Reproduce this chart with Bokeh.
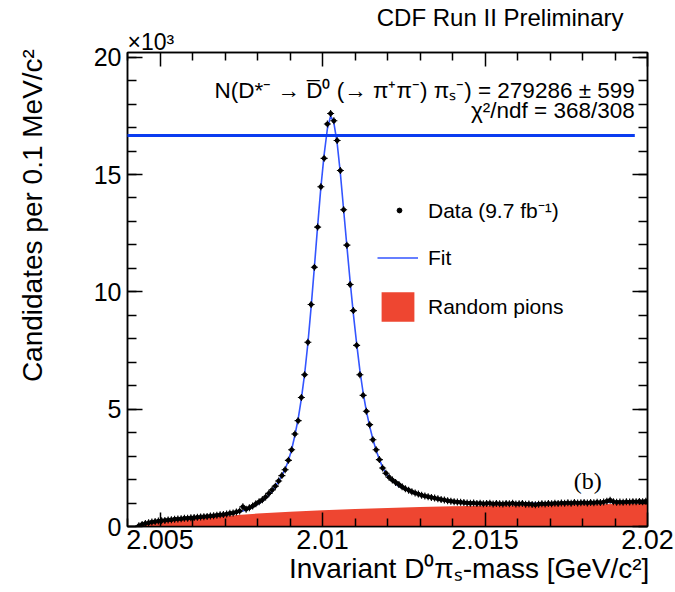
import numpy as np
from bokeh.plotting import figure
from bokeh.models import (Range1d, FixedTicker, LinearAxis, Label, Legend, LegendItem, Title,
                          Arrow, ColumnDataSource, CustomJSTickFormatter, CustomLabelingPolicy)
from bokeh.embed import file_html
from bokeh.resources import INLINE

# ---------------- data (counts in units of 10^3 per 0.1 MeV bin) ----------------
bin_low = 2.0043
bin_width = 0.0001
counts_k = [
    0.03, 0.09, 0.13, 0.16, 0.19, 0.21, 0.23, 0.25, 0.26, 0.28,
    0.29, 0.31, 0.32, 0.33, 0.35, 0.35, 0.37, 0.38, 0.39, 0.41,
    0.42, 0.43, 0.45, 0.46, 0.48, 0.50, 0.51, 0.53, 0.56, 0.58,
    0.62, 0.66, 0.84, 0.74, 0.80, 0.87, 0.97, 1.05, 1.14, 1.26,
    1.41, 1.56, 1.72, 1.94, 2.17, 2.42, 2.82, 3.27, 3.94, 4.51,
    5.50, 6.47, 7.85, 9.46, 11.05, 12.76, 14.48, 15.69, 17.15, 17.60,
    17.29, 16.45, 15.17, 13.50, 11.99, 10.31, 9.20, 7.72, 6.47, 5.59,
    4.91, 4.34, 3.70, 3.27, 2.85, 2.49, 2.27, 2.10, 1.98, 1.88,
    1.79, 1.69, 1.61, 1.55, 1.48, 1.43, 1.38, 1.33, 1.30, 1.27,
    1.24, 1.21, 1.18, 1.15, 1.13, 1.10, 1.08, 1.06, 1.04, 1.03,
    1.02, 1.00, 0.99, 1.00, 0.98, 0.99, 0.97, 0.98, 0.99, 0.96,
    0.98, 0.97, 0.96, 0.98, 0.97, 0.99, 0.96, 0.97, 0.98, 0.95,
    0.96, 0.94, 0.93, 0.95, 0.97, 0.96, 0.98, 0.97, 0.99, 0.98,
    1.00, 0.99, 1.01, 0.99, 1.02, 1.00, 1.01, 1.02, 1.00, 1.02,
    1.01, 1.03, 1.02, 1.04, 1.08, 1.12, 1.06, 1.03, 1.04, 1.03,
    1.05, 1.04, 1.06, 1.05, 1.07, 1.06, 1.08,
]

fit_mass = [
    2.00430, 2.00440, 2.00450, 2.00470, 2.00500, 2.00550, 2.00600, 2.00650,
    2.00700, 2.00730, 2.00760, 2.00780, 2.00800, 2.00815, 2.00830, 2.00845,
    2.00860, 2.00875, 2.00885, 2.00895, 2.00905, 2.00915, 2.00925, 2.00935,
    2.00945, 2.00955, 2.00965, 2.00975, 2.00985, 2.00995, 2.01005, 2.01015,
    2.01025, 2.01035, 2.01045, 2.01055, 2.01065, 2.01075, 2.01085, 2.01095,
    2.01105, 2.01115, 2.01125, 2.01135, 2.01145, 2.01155, 2.01165, 2.01175,
    2.01185, 2.01195, 2.01205, 2.01230, 2.01255, 2.01280, 2.01305, 2.01330,
    2.01355, 2.01400, 2.01450, 2.01500, 2.01600, 2.01700, 2.01800, 2.01900,
    2.02000,
]
fit_k = [
    0.00, 0.06, 0.12, 0.18, 0.24, 0.31, 0.37, 0.44,
    0.52, 0.58, 0.68, 0.79, 0.95, 1.08, 1.26, 1.50,
    1.82, 2.18, 2.45, 2.80, 3.28, 3.88, 4.58, 5.45,
    6.50, 7.80, 9.35, 11.05, 12.80, 14.45, 15.85, 16.95,
    17.50, 17.20, 16.35, 15.05, 13.50, 11.95, 10.45, 9.05,
    7.80, 6.65, 5.70, 4.92, 4.28, 3.72, 3.25, 2.86,
    2.52, 2.26, 2.07, 1.76, 1.58, 1.43, 1.33, 1.25,
    1.18, 1.08, 1.02, 0.99, 0.98, 1.00, 1.02, 1.04,
    1.06,
]

bg_mass = [2.0043, 2.00435, 2.0045, 2.0047, 2.005, 2.0055, 2.006, 2.0065, 2.007,
           2.0075, 2.008, 2.009, 2.010, 2.011, 2.012, 2.013, 2.014, 2.015, 2.016,
           2.017, 2.018, 2.019, 2.020]
bg_k = [0.0, 0.02, 0.09, 0.15, 0.21, 0.28, 0.34, 0.40, 0.45,
        0.50, 0.55, 0.63, 0.69, 0.75, 0.79, 0.83, 0.86, 0.88, 0.90,
        0.92, 0.94, 0.96, 0.97]

x_major = [2.005, 2.01, 2.015, 2.02]
x_minor = [2.004, 2.006, 2.007, 2.008, 2.009, 2.011, 2.012, 2.013, 2.014,
           2.016, 2.017, 2.018, 2.019]
y_major = [0, 5, 10, 15, 20]
y_minor = list(range(0, 21))

FONT = "Liberation Sans"
NBSP = "\u00a0"

bin_centers = bin_low + bin_width * (np.arange(len(counts_k)) + 0.5)
data_src = ColumnDataSource(dict(x=bin_centers, y=counts_k))

p = figure(width=675, height=592, x_range=Range1d(2.004, 2.02), y_range=Range1d(0, 20.2),
           output_backend="svg", toolbar_location=None, title=None,
           min_border_left=127, min_border_right=28, min_border_top=52, min_border_bottom=66)
p.grid.visible = False
p.outline_line_color = "black"
p.outline_line_width = 1.5
p.background_fill_color = "white"
p.border_fill_color = "white"

# background (random pions)
bg_r = p.varea(x=bg_mass, y1=0, y2=bg_k, fill_color="#EE4631")
# fit
fit_r = p.line(x=fit_mass, y=fit_k, line_color="#3355FF", line_width=1.6)
# data
pts = p.scatter("x", "y", source=data_src, marker="circle", size=4,
                fill_color="black", line_color="black")
crs = p.scatter("x", "y", source=data_src, marker="cross", size=7,
                line_color="black", line_width=1.1)

# axes styling
def style_axis(ax, major_in, minor_in):
    ax.axis_line_color = "black"
    ax.axis_line_width = 1.5
    ax.major_tick_line_color = "black"
    ax.minor_tick_line_color = "black"
    ax.major_tick_line_width = 1.5
    ax.minor_tick_line_width = 1.5
    ax.major_tick_in = major_in
    ax.major_tick_out = 0
    ax.minor_tick_in = minor_in
    ax.minor_tick_out = 0

xa = p.xaxis[0]
xa.ticker = FixedTicker(ticks=x_major, minor_ticks=x_minor)
xa.formatter = CustomJSTickFormatter(code="return tick.toFixed(3).replace(/0+$/, '');")
style_axis(xa, 14, 8)
xa.major_label_text_font = FONT
xa.major_label_text_font_size = "27px"
xa.major_label_text_color = "black"
xa.major_label_standoff = 3
# leading no-break spaces push the centred title to the right end of the axis (ROOT style)
xa.axis_label = NBSP * 21 + "Invariant D⁰π\u209b-mass [GeV/c²]"
xa.axis_label_text_font = FONT
xa.axis_label_text_font_size = "28px"
xa.axis_label_text_font_style = "normal"
xa.axis_label_text_color = "black"
xa.axis_label_standoff = 1

ya = p.yaxis[0]
ya.ticker = FixedTicker(ticks=y_major, minor_ticks=y_minor)
style_axis(ya, 15, 9)
ya.major_label_text_font = FONT
ya.major_label_text_font_size = "25px"
ya.major_label_text_color = "black"
ya.major_label_standoff = 6
ya.axis_label = NBSP * 19 + "Candidates per 0.1 MeV/c²"
ya.axis_label_text_font = FONT
ya.axis_label_text_font_size = "28px"
ya.axis_label_text_font_style = "normal"
ya.axis_label_text_color = "black"
ya.axis_label_standoff = 43

hide_labels = CustomLabelingPolicy(code="return [];")
top = LinearAxis(ticker=FixedTicker(ticks=x_major, minor_ticks=x_minor),
                 major_label_policy=hide_labels, major_label_text_font_size="0px")
style_axis(top, 14, 8)
p.add_layout(top, "above")
right = LinearAxis(ticker=FixedTicker(ticks=y_major, minor_ticks=y_minor),
                   major_label_policy=hide_labels, major_label_text_font_size="0px")
style_axis(right, 15, 9)
p.add_layout(right, "right")

# titles above the frame
p.add_layout(Title(text="×10³", align="left", text_font=FONT, text_font_size="23px",
                   text_font_style="normal", text_color="black", standoff=-4), "above")
p.add_layout(Title(text="CDF Run II Preliminary", align="right", text_font=FONT,
                   text_font_size="24px", text_font_style="normal", text_color="black",
                   standoff=-4, offset=24), "above")

# legends
legend_data = Legend(items=[LegendItem(label="Data (9.7 fb⁻¹)", renderers=[pts])],
                     location=(266, 302), glyph_width=12, glyph_height=12, label_height=12,
                     spacing=0, padding=0, margin=0, label_standoff=23,
                     border_line_color=None, background_fill_alpha=0,
                     label_text_font=FONT, label_text_font_size="21px", label_text_color="black")
legend_fit = Legend(items=[LegendItem(label="Fit", renderers=[fit_r]),
                           LegendItem(label="Random pions", renderers=[bg_r])],
                    location=(250, 201), glyph_width=41, glyph_height=37, spacing=12,
                    padding=0, margin=0, label_standoff=10,
                    border_line_color=None, background_fill_alpha=0,
                    label_text_font=FONT, label_text_font_size="21px", label_text_color="black")
p.add_layout(legend_data)
p.add_layout(legend_fit)

def px_x(px):
    return 2.004 + (px - 127) * 0.001 / 32.48

def px_y(py):
    return (526 - py) / 23.465

def add_label(text, px, py, size, align="left", font=FONT):
    p.add_layout(Label(x=px_x(px), y=px_y(py), text=text, text_font=font,
                       text_font_size=size, text_align=align, text_baseline="alphabetic",
                       text_color="black"))

add_label("N(D*⁻ → D\u0305⁰ (→ π⁺π⁻) π\u209b⁻) = 279286 ± 599", 634, 90, "22.5px", align="right")
add_label("χ²/ndf = 368/308", 634, 110, "22.5px", align="right")
add_label("(b)", 573, 481, "24px", font="Liberation Serif")

# slide overlay line
p.add_layout(Arrow(end=None, x_start=px_x(0), y_start=px_y(135), x_end=px_x(634), y_end=px_y(135),
                   line_color="#0A3CF0", line_width=3))

open("out.html", "w").write(file_html(p, INLINE))
